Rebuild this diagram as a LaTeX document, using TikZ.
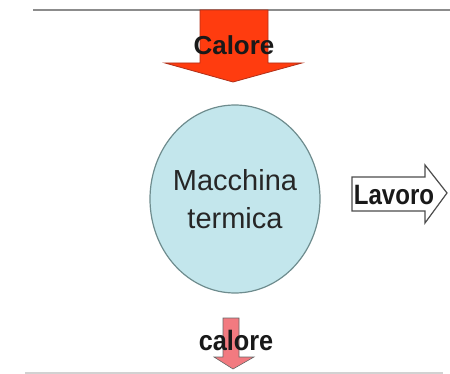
\documentclass[tikz,border=0pt]{standalone}
\usepackage{fontspec}
\setmainfont{Liberation Sans}
\usepackage{tikz}
\usetikzlibrary{positioning}
\definecolor{lineagrigia}{HTML}{8C8C8C}
\definecolor{lineachiara}{HTML}{D2D2D2}
\definecolor{caldo}{HTML}{FF3C0F}
\definecolor{caldobordo}{HTML}{B0301A}
\definecolor{freddo}{HTML}{F27A80}
\definecolor{celeste}{HTML}{C3E6EC}
\definecolor{bordoceleste}{HTML}{6E8C8E}
\tikzset{
  scritta/.style={font=\bfseries\fontsize{28}{32}\selectfont, text=black!90, inner sep=0pt, xscale=0.86},
}
\begin{document}
\begin{tikzpicture}[x=1pt, y=-1pt]
				\useasboundingbox (0,0) rectangle (450,374);
				% linee
				\draw[lineagrigia, line width=2.5pt] (33,10)-- (450,10);
				\draw[lineachiara, line width=1.5pt] (25,373)-- (443,373);
				% calore in ingresso
				\draw[caldobordo, fill=caldo, line width=0.8pt] (200,10)-- (268,10)-- (268,63)-- (302,63)-- (233,82)-- (165,63)-- (200,63)-- cycle;
				\node[scritta, font=\bfseries\fontsize{26}{30}\selectfont, xscale=1.16] (calore) at (234,45) {Calore};
				% macchina
				\draw[bordoceleste, fill=celeste, line width=1.2pt] (235,199) ellipse (85 and 94);
				\node[align=center, inner sep=0pt, text=black!85, font=\fontsize{29}{38}\selectfont] (macchina) at (235,199) {Macchina\\termica};
				% lavoro
				\draw[black!70, fill=white, line width=1.2pt] (352,177)-- (425,177)-- (425,165)-- (447,193)-- (425,223)-- (425,211)-- (352,211)-- cycle;
				\node[scritta] (lavoro) at (394,195) {Lavoro};
				% calore in uscita
				\draw[black!60, fill=freddo, line width=0.6pt] (223,318)-- (239,318)-- (239,357)-- (254,357)-- (233,369)-- (214,357)-- (223,357)-- cycle;
				\node[scritta, xscale=1.05] (uscita) at (236,340) {calore};
\end{tikzpicture}
\end{document}
